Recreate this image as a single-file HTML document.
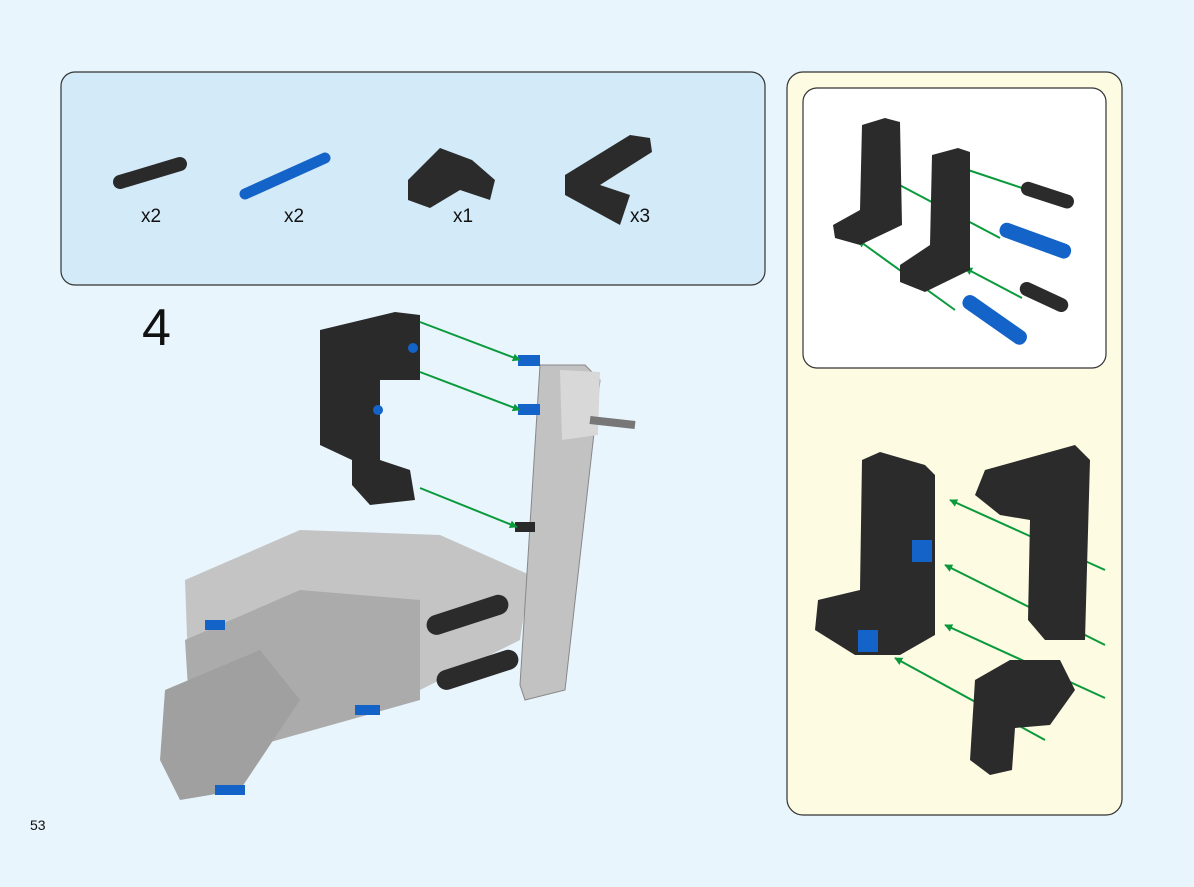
<!DOCTYPE html>
<html><head><meta charset="utf-8"><style>
html,body{margin:0;padding:0;width:1194px;height:887px;overflow:hidden;background:#e8f5fd;font-family:"Liberation Sans",sans-serif}
svg{position:absolute;left:0;top:0}
</style></head><body>
<svg width="1194" height="887" viewBox="0 0 1194 887">
<defs>
<marker id="a" viewBox="0 0 10 10" refX="9" refY="5" markerWidth="4" markerHeight="4" orient="auto"><path d="M0,0L10,5L0,10z" fill="#0a9a3c"/></marker>
</defs>
<rect x="61" y="72" width="704" height="213" rx="14" fill="#d3eaf8" stroke="#333" stroke-width="1.2"/>
<rect x="787" y="72" width="335" height="743" rx="16" fill="#fdfbe2" stroke="#333" stroke-width="1.2"/>
<rect x="803" y="88" width="303" height="280" rx="14" fill="#fff" stroke="#333" stroke-width="1.2"/>
<g stroke-linecap="round">
<line x1="120" y1="182" x2="180" y2="164" stroke="#2a2a2a" stroke-width="14"/>
<line x1="245" y1="194" x2="325" y2="158" stroke="#1463c8" stroke-width="11"/>
<path d="M408,180 L440,148 L472,160 L495,180 L490,200 L460,190 L430,208 L408,200Z" fill="#2b2b2b"/>
<path d="M565,175 L630,135 L650,138 L652,152 L600,185 L630,195 L620,225 L565,195Z" fill="#2b2b2b"/>
</g>
<g font-size="19" fill="#111">
<text x="141" y="222">x2</text><text x="284" y="222">x2</text><text x="453" y="222">x1</text><text x="630" y="222">x3</text>
</g>
<text x="142" y="345" font-size="52" fill="#111">4</text>
<text x="30" y="830" font-size="14" fill="#111">53</text>
<g>
<path d="M185,580 L300,530 L440,535 L530,575 L520,640 L400,700 L260,745 L190,720Z" fill="#c4c4c4"/>
<path d="M185,640 L300,590 L420,600 L420,700 L260,745 L190,720Z" fill="#ababab"/>
<path d="M165,690 L260,650 L300,700 L240,790 L180,800 L160,760Z" fill="#a0a0a0"/>
<rect x="425" y="605" width="85" height="20" rx="10" fill="#2b2b2b" transform="rotate(-18 467 615)"/>
<rect x="435" y="660" width="85" height="20" rx="10" fill="#2b2b2b" transform="rotate(-18 477 670)"/>
<path d="M540,365 L585,365 L600,380 L565,690 L525,700 L520,685Z" fill="#c2c2c2" stroke="#888"/>
<path d="M560,370 L600,372 L598,435 L562,440Z" fill="#d8d8d8"/>
<line x1="590" y1="420" x2="635" y2="425" stroke="#777" stroke-width="8"/>
<path d="M320,330 L395,312 L420,315 L420,380 L380,380 L380,460 L410,470 L415,500 L370,505 L352,485 L352,460 L320,445Z" fill="#2a2a2a"/>
<circle cx="413" cy="348" r="5" fill="#1463c8"/><circle cx="378" cy="410" r="5" fill="#1463c8"/>
<rect x="518" y="355" width="22" height="11" fill="#1463c8"/><rect x="518" y="404" width="22" height="11" fill="#1463c8"/><rect x="515" y="522" width="20" height="10" fill="#2a2a2a"/>
<rect x="205" y="620" width="20" height="10" fill="#1463c8"/><rect x="355" y="705" width="25" height="10" fill="#1463c8"/><rect x="215" y="785" width="30" height="10" fill="#1463c8"/>
</g>
<g stroke="#0a9a3c" stroke-width="2" fill="none" marker-end="url(#a)">
<line x1="420" y1="322" x2="520" y2="360"/><line x1="420" y1="372" x2="520" y2="410"/><line x1="420" y1="488" x2="517" y2="527"/>
<line x1="1022" y1="188" x2="962" y2="168"/><line x1="1000" y1="238" x2="890" y2="180"/><line x1="1022" y1="298" x2="965" y2="268"/><line x1="955" y1="310" x2="858" y2="240"/>
<line x1="1105" y1="570" x2="950" y2="500"/><line x1="1105" y1="645" x2="945" y2="565"/><line x1="1105" y1="698" x2="945" y2="625"/><line x1="1045" y1="740" x2="895" y2="658"/>
</g>
<g fill="#2b2b2b">
<path d="M862,125 L885,118 L900,122 L902,225 L860,245 L835,238 L833,225 L860,210Z"/>
<path d="M932,155 L958,148 L970,152 L970,270 L925,292 L900,282 L900,265 L930,245Z"/>
<rect x="1020" y="188" width="55" height="14" rx="7" transform="rotate(18 1047 195)"/>
<rect x="1018" y="290" width="52" height="14" rx="7" transform="rotate(25 1044 297)"/>
</g>
<rect x="998" y="233" width="75" height="15" rx="7" fill="#1463c8" transform="rotate(20 1035 240)"/>
<rect x="957" y="312" width="75" height="15" rx="7" fill="#1463c8" transform="rotate(35 994 320)"/>
<g fill="#2b2b2b">
<path d="M862,460 L880,452 L925,465 L935,475 L935,635 L900,655 L855,655 L815,630 L818,600 L860,590Z"/>
<path d="M985,470 L1075,445 L1090,460 L1085,640 L1045,640 L1028,620 L1030,520 L1000,515 L975,495Z"/>
<path d="M975,680 L1010,660 L1060,660 L1075,690 L1050,725 L1015,728 L1012,770 L990,775 L970,760Z"/>
</g>
<rect x="858" y="630" width="20" height="22" fill="#1463c8"/><rect x="912" y="540" width="20" height="22" fill="#1463c8"/>
</svg>
</body></html>
